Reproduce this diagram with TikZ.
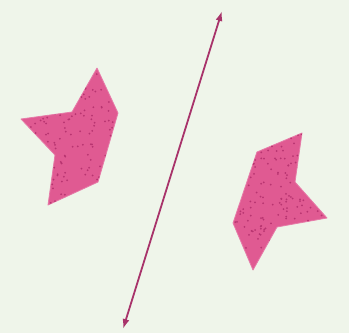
\documentclass[tikz,border=0pt]{standalone}
\usetikzlibrary{arrows.meta}
\definecolor{Paper}{HTML}{EFF5EA}
\definecolor{Rose}{HTML}{E05A92}
\definecolor{RoseDot}{HTML}{B83470}
\definecolor{Axis}{HTML}{A8336A}
\tikzset{
    flag/.style={fill=Rose, draw=Rose!80, line width=0.8pt, line join=round},
    axisline/.style={{Latex[length=10pt,width=7pt]}-{Latex[length=10pt,width=7pt]}, line width=1.8pt, color=Axis},
}

\begin{document}
\begin{tikzpicture}[x=1pt, y=-1pt]
    % Background
    \fill[Paper] (0,0) rectangle (349,333);
    \useasboundingbox (0,0) rectangle (349,333);

    % Left figure
    \draw[flag] (97,68) -- (118,113) -- (98,182) -- (48,205) -- (55,155)
        -- (21,119) -- (72,112) -- cycle;
    \begin{scope}
        \clip (97,68) -- (118,113) -- (98,182) -- (48,205) -- (55,155)
            -- (21,119) -- (72,112) -- cycle;
        \pgfmathsetseed{7}
        \foreach \i in {1,...,220}{
            \pgfmathsetmacro{\dx}{20+100*rnd}
            \pgfmathsetmacro{\dy}{66+142*rnd}
            \fill[RoseDot] (\dx,\dy) circle (1);
        }
    \end{scope}

    % Right figure
    \draw[flag] (302,133) -- (257,152) -- (233,223) -- (253,270) -- (277,227)
        -- (327,218) -- (295,182) -- cycle;
    \begin{scope}
        \clip (302,133) -- (257,152) -- (233,223) -- (253,270) -- (277,227)
            -- (327,218) -- (295,182) -- cycle;
        \pgfmathsetseed{11}
        \foreach \i in {1,...,220}{
            \pgfmathsetmacro{\dx}{231+98*rnd}
            \pgfmathsetmacro{\dy}{131+141*rnd}
            \fill[RoseDot] (\dx,\dy) circle (1);
        }
    \end{scope}

    % Mirror line
    \coordinate (top) at (222,11);
    \coordinate (bottom) at (123,329);
    \draw[axisline] (bottom) -- (top);
\end{tikzpicture}
\end{document}
